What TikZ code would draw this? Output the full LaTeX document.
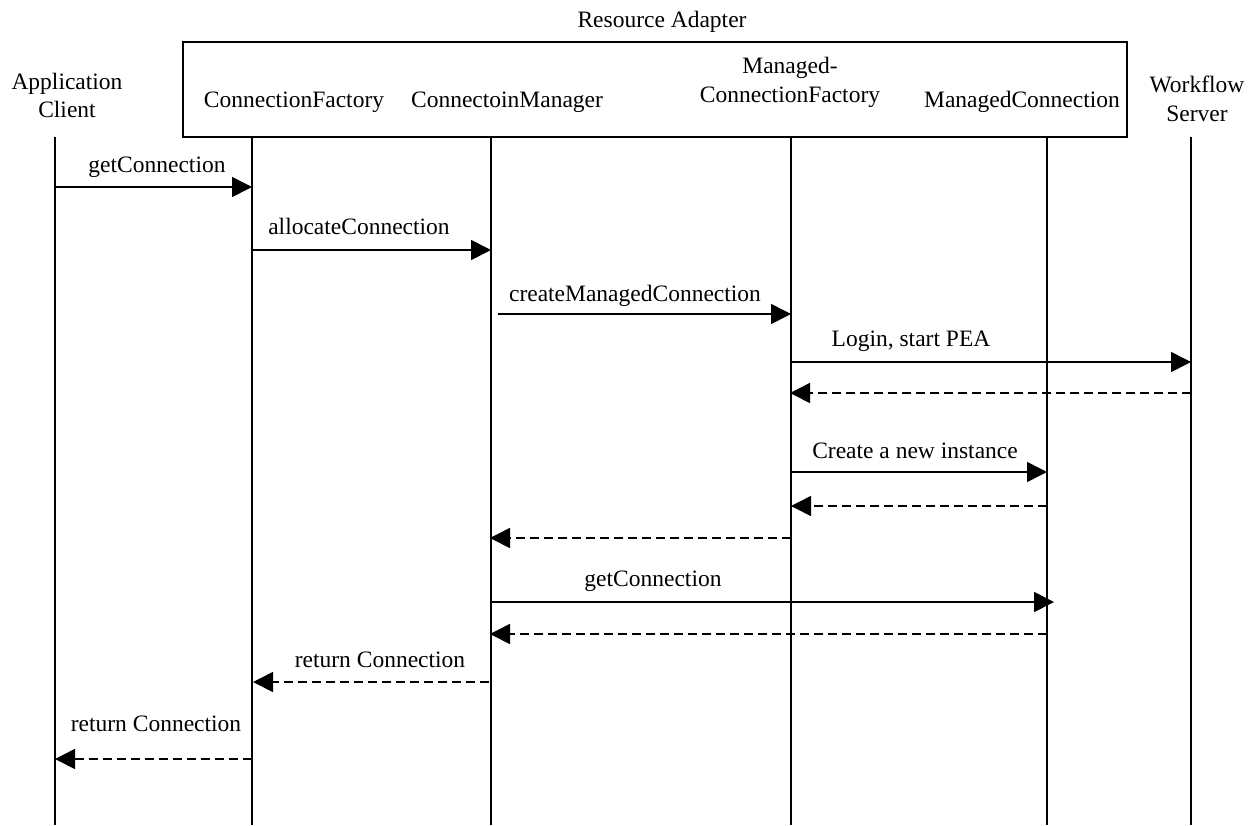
\documentclass[tikz,border=0pt]{standalone}
\usepackage{fontspec}
\setmainfont{Liberation Serif}
\usetikzlibrary{arrows.meta}
\begin{document}
\begin{tikzpicture}[x=1pt,y=-1pt,
  every node/.style={font=\fontsize{23.5}{27}\selectfont, inner sep=0pt, anchor=base},
  lifeline/.style={line width=1.6pt},
  frame/.style={draw, line width=2pt},
  call/.style={line width=1.6pt, -{Triangle[length=20pt,width=20pt]}},
  reply/.style={line width=1.6pt, dash pattern=on 9pt off 5pt, -{Triangle[length=20pt,width=20pt]}}]
\useasboundingbox (0,0) rectangle (1255,825);

% Resource adapter frame
\node (ra) at (662,27) {Resource Adapter};
\draw[frame] (183,42) rectangle (1127,137);

% participant headings
\node (ac1) at (67,89) {Application};
\node (ac2) at (67,117) {Client};
\node (cfl) at (294,107) {ConnectionFactory};
\node (cml) at (507,107) {ConnectoinManager};
\node (mcf1) at (790,73) {Managed-};
\node (mcf2) at (790,102) {ConnectionFactory};
\node (mcl) at (1022,107) {ManagedConnection};
\node (ws1) at (1197,92) {Workflow};
\node (ws2) at (1197,121) {Server};

% lifelines
\coordinate (acT) at (55,137);   \coordinate (acB) at (55,825);
\coordinate (cfT) at (252,137);  \coordinate (cfB) at (252,825);
\coordinate (cmT) at (491,137);  \coordinate (cmB) at (491,825);
\coordinate (mfT) at (791,137);  \coordinate (mfB) at (791,825);
\coordinate (mcT) at (1047,137); \coordinate (mcB) at (1047,825);
\coordinate (wsT) at (1191,137); \coordinate (wsB) at (1191,825);
\foreach \p in {ac,cf,cm,mf,mc,ws} \draw[lifeline] (\p T) -- (\p B);

% message end points
\coordinate (m1a) at (55,187);   \coordinate (m1b) at (252,187);
\coordinate (m2a) at (253,250);  \coordinate (m2b) at (491,250);
\coordinate (m3a) at (498,314);  \coordinate (m3b) at (791,314);
\coordinate (m4a) at (790,362);  \coordinate (m4b) at (1191,362);
\coordinate (m5a) at (1191,393); \coordinate (m5b) at (790,393);
\coordinate (m6a) at (791,472);  \coordinate (m6b) at (1047,472);
\coordinate (m7a) at (1047,506); \coordinate (m7b) at (791,506);
\coordinate (m8a) at (791,538);  \coordinate (m8b) at (490,538);
\coordinate (m9a) at (491,602);  \coordinate (m9b) at (1054,602);
\coordinate (m10a) at (1047,634); \coordinate (m10b) at (490,634);
\coordinate (m11a) at (489,682); \coordinate (m11b) at (253,682);
\coordinate (m12a) at (252,759); \coordinate (m12b) at (55,759);

% messages
\draw[call]  (m1a) -- (m1b);
\draw[call]  (m2a) -- (m2b);
\draw[call]  (m3a) -- (m3b);
\draw[call]  (m4a) -- (m4b);
\draw[reply] (m5a) -- (m5b);
\draw[call]  (m6a) -- (m6b);
\draw[reply] (m7a) -- (m7b);
\draw[reply] (m8a) -- (m8b);
\draw[call]  (m9a) -- (m9b);
\draw[reply] (m10a) -- (m10b);
\draw[reply] (m11a) -- (m11b);
\draw[reply] (m12a) -- (m12b);

% message labels
\node (l1) at (157,172) {getConnection};
\node (l2) at (359,234) {allocateConnection};
\node (l3) at (635,301) {createManagedConnection};
\node (l4) at (911,346) {Login, start PEA};
\node (l6) at (915,458) {Create a new instance};
\node (l9) at (653,586) {getConnection};
\node (l11) at (380,667) {return Connection};
\node (l12) at (156,731) {return Connection};
\end{tikzpicture}
\end{document}
